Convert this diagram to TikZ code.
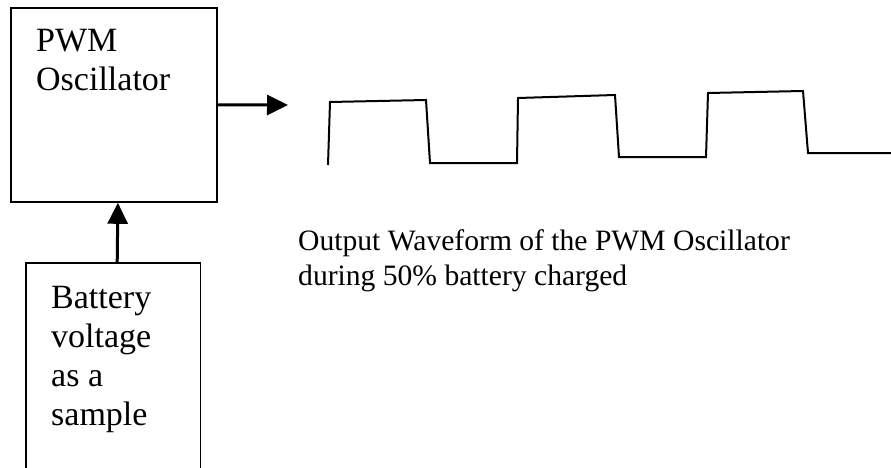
\documentclass[tikz,border=0pt]{standalone}
\usepackage{fontspec}
\setmainfont{Liberation Serif}
\usetikzlibrary{arrows.meta}
\begin{document}
\begin{tikzpicture}[x=1pt,y=-1pt,
  boxline/.style={line width=1.8pt, black},
  arr/.style={line width=3pt, -{Triangle[length=21pt,width=20pt]}},
  bigtxt/.style={anchor=base west, inner sep=0, align=left, font=\fontsize{34}{39}\selectfont},
  captxt/.style={anchor=base west, inner sep=0, align=left, font=\fontsize{29.6}{35}\selectfont},
  wave/.style={line width=2pt, line join=miter}]
\useasboundingbox[fill=white] (0,0) rectangle (891,468);
% oscillator box
\node[draw, boxline, anchor=north west, inner sep=0, minimum width=206pt, minimum height=194pt] (osc) at (10,7) {};
\node[bigtxt] (osctxt) at (36,91) {PWM\\Oscillator};
% battery box (open at bottom)
\node[anchor=north west, inner sep=0, minimum width=174pt, minimum height=210pt] (bat) at (26,263) {};
\draw[boxline] (bat.south west) -- (bat.north west) -- (bat.north east) -- (bat.south east);
\node[bigtxt] (battxt) at (51,425) {Battery\\voltage\\as a\\sample};
% arrows
\coordinate (wavein) at (288,105);
\draw[arr] (osc.east) -- (wavein);
\draw[arr] ([xshift=4pt]bat.north) -- ([xshift=4pt]osc.south);
% waveform
\draw[wave] (328,165) -- (330,102) -- (426,100) -- (430,163) -- (517,163) -- (518,98)
  -- (615,95) -- (619,157) -- (706,157) -- (708,93) -- (803,91) -- (808,153) -- (891,153);
% caption
\node[captxt] (cap) at (298,285) {Output Waveform of the PWM Oscillator\\during 50\% battery charged};
\end{tikzpicture}
\end{document}
